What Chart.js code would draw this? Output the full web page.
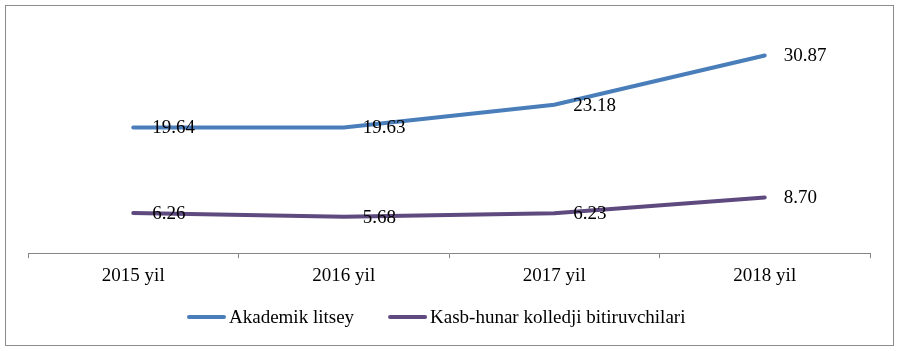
<!DOCTYPE html>
<html lang="en">
<head>
  <meta charset="UTF-8" />
  <title>Bitiruvchilar</title>
  <script src="https://cdn.jsdelivr.net/npm/chart.js"></script>
  <style>
    html, body { margin: 0; padding: 0; background: #fff; }
    #wrap { position: relative; width: 900px; height: 351px; }
  </style>
</head>
<body>
  <div id="wrap"><canvas id="chart" width="900" height="351"></canvas></div>
  <script>
    const years = ['2015 yil', '2016 yil', '2017 yil', '2018 yil'];
    const litsey = [19.64, 19.63, 23.18, 30.87];
    const kollej = [6.26, 5.68, 6.23, 8.70];
    const seriesNames = ['Akademik litsey', 'Kasb-hunar kolledji bitiruvchilari'];

    const serif = "'Liberation Serif', 'Times New Roman', serif";
    const fontPx = 19;

    // outer frame + legend drawn by hand (Excel style line swatches)
    const framePlugin = {
      id: 'frame',
      afterDraw(chart) {
        const ctx = chart.ctx;
        ctx.save();
        ctx.strokeStyle = '#8c8c8c';
        ctx.lineWidth = 1;
        ctx.strokeRect(5.5, 5.5, 888, 340);

        ctx.font = fontPx + 'px ' + serif;
        ctx.textBaseline = 'middle';
        ctx.textAlign = 'left';
        ctx.lineCap = 'round';
        let x = 189;
        const y = 317;
        chart.data.datasets.forEach(ds => {
          ctx.strokeStyle = ds.borderColor;
          ctx.lineWidth = 4;
          ctx.beginPath();
          ctx.moveTo(x, y);
          ctx.lineTo(x + 35, y);
          ctx.stroke();
          ctx.fillStyle = '#000';
          ctx.fillText(ds.label, x + 40, y + 1);
          x += 40 + ctx.measureText(ds.label).width + 36;
        });
        ctx.restore();
      }
    };

    const valueLabels = {
      id: 'valueLabels',
      afterDatasetsDraw(chart) {
        const ctx = chart.ctx;
        ctx.save();
        ctx.font = fontPx + 'px ' + serif;
        ctx.fillStyle = '#000';
        ctx.textBaseline = 'middle';
        ctx.textAlign = 'left';
        chart.data.datasets.forEach((ds, i) => {
          chart.getDatasetMeta(i).data.forEach((pt, j) => {
            ctx.fillText(ds.data[j].toFixed(2), pt.x + 19, pt.y + 1);
          });
        });
        ctx.restore();
      }
    };

    new Chart(document.getElementById('chart'), {
      type: 'line',
      data: {
        labels: years,
        datasets: [
          {
            label: seriesNames[0],
            data: litsey,
            borderColor: '#4a7ebb',
            backgroundColor: '#4a7ebb',
            borderWidth: 4,
            borderCapStyle: 'round',
            pointRadius: 0,
            tension: 0
          },
          {
            label: seriesNames[1],
            data: kollej,
            borderColor: '#5f4a7f',
            backgroundColor: '#5f4a7f',
            borderWidth: 4,
            borderCapStyle: 'round',
            pointRadius: 0,
            tension: 0
          }
        ]
      },
      options: {
        responsive: false,
        animation: false,
        layout: { padding: { left: 28, right: 30, top: 29, bottom: 58 } },
        scales: {
          x: {
            offset: true,
            grid: { offset: true, drawOnChartArea: false, color: '#868686', tickLength: 5 },
            border: { color: '#868686', width: 1 },
            ticks: { color: '#000', font: { family: serif, size: fontPx }, padding: 6 }
          },
          y: {
            display: false,
            min: 0,
            max: 35
          }
        },
        plugins: {
          tooltip: { enabled: false },
          legend: { display: false }
        }
      },
      plugins: [framePlugin, valueLabels]
    });
  </script>
</body>
</html>
